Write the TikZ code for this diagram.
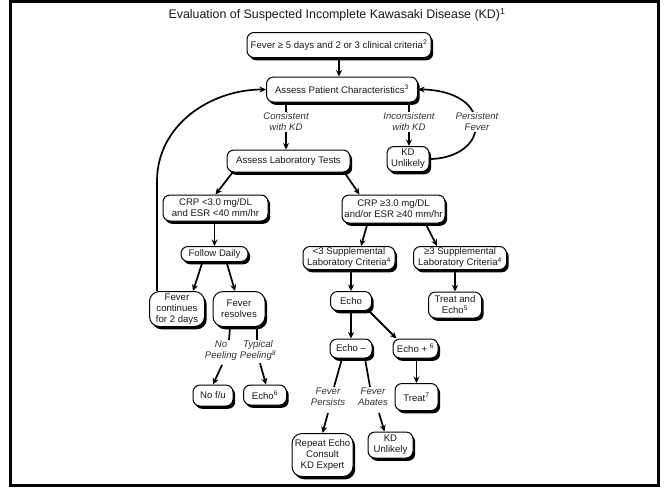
\documentclass[tikz,border=0pt]{standalone}
\usepackage{fontspec}
\setmainfont{Liberation Sans}
\setsansfont{Liberation Sans}
\usetikzlibrary{arrows.meta,shadows}
\newcommand\dfont{\fontsize{9.6}{11}\selectfont}
\begin{document}
\begin{tikzpicture}[x=1pt,y=-1pt,
  box/.style={draw=black, line width=1pt, rounded corners=7pt, fill=white, align=center,
    inner sep=1pt, font=\dfont, text=black!90,
    drop shadow={shadow xshift=2.2pt,shadow yshift=-2.8pt,fill=black,opacity=1}},
  bx/.style 2 args={box, minimum width=#1, minimum height=#2},
  lbl/.style={align=center, inner sep=1pt, font=\dfont\itshape, text=black!80},
  arr/.style={line width=1.7pt, -{Stealth[length=6.5pt,width=6pt]}},
  ln/.style={line width=1.7pt}]
\useasboundingbox (0,0) rectangle (666,488);
\fill[white] (0,0) rectangle (666,488);
\draw[line width=3pt] (10.5,1.5) rectangle (658.5,485.5);

\node[font=\fontsize{12.4}{14}\selectfont, text=black!90] (title) at (337,15)
  {Evaluation of Suspected Incomplete Kawasaki Disease (KD)\textsuperscript{1}};

% boxes
\node[bx={184pt}{25pt}] (fever) at (339,45) {Fever ≥ 5 days and 2 or 3 clinical criteria\textsuperscript{2}};
\node[bx={151pt}{25pt}] (apc) at (342,89.5) {Assess Patient Characteristics\textsuperscript{3}};
\node[bx={123pt}{22pt}] (lab) at (288.5,161) {Assess Laboratory Tests};
\node[bx={42pt}{25pt}] (kdu1) at (408,159) {KD\\Unlikely};
\node[bx={105pt}{26pt}] (crp1) at (215.5,208) {CRP <3.0 mg/DL\\and ESR <40 mm/hr};
\node[bx={103pt}{28pt}] (crp2) at (393.5,209) {CRP ≥3.0 mg/DL\\and/or ESR ≥40 mm/hr};
\node[bx={67pt}{15pt}] (fd) at (214.5,254) {Follow Daily};
\node[bx={92pt}{23pt}] (sup1) at (349,258) {<3 Supplemental\\Laboratory Criteria\textsuperscript{4}};
\node[bx={93pt}{23pt}] (sup2) at (460,258) {≥3 Supplemental\\Laboratory Criteria\textsuperscript{4}};
\node[bx={41pt}{19pt}] (echo) at (351,301) {Echo};
\node[bx={53pt}{26pt}] (te) at (455,305) {Treat and\\Echo\textsuperscript{5}};
\node[bx={55pt}{35pt}, rounded corners=10pt] (fc) at (177,309) {Fever\\continues\\for 2 days};
\node[bx={52pt}{35pt}, rounded corners=10pt] (fr) at (239,309) {Fever\\resolves};
\node[bx={42pt}{19pt}] (echom) at (351,348.5) {Echo –};
\node[bx={45pt}{19pt}] (echop) at (415.5,348.5) {Echo + \textsuperscript{6}};
\node[bx={40pt}{21pt}] (nofu) at (213,395.5) {No f/u};
\node[bx={43pt}{20pt}] (echo6) at (265,395) {Echo\textsuperscript{6}};
\node[bx={43pt}{27pt}] (treat) at (416.5,397) {Treat\textsuperscript{7}};
\node[bx={61pt}{43pt}, rounded corners=10pt] (rep) at (322.5,455) {Repeat Echo\\Consult\\KD Expert};
\node[bx={45pt}{26pt}] (kdu2) at (390.5,445) {KD\\Unlikely};

% labels
\node[lbl] (cons) at (286,122) {Consistent\\with KD};
\node[lbl] (incons) at (409,122) {Inconsistent\\with KD};
\node[lbl] (np) at (221,351) {No\\Peeling};
\node[lbl] (tp) at (258,351) {Typical\\Peeling\textsuperscript{8}};
\node[lbl] (fp) at (328,397) {Fever\\Persists};
\node[lbl] (fa) at (373,397) {Fever\\Abates};

% connectors
\draw[arr] (fever) -- (fever.south |- apc.north);
\draw[ln] (apc.south -| cons.north) -- (cons.north);
\draw[arr] (cons.south) -- (cons.south |- lab.north);
\draw[ln] (apc.south -| incons.north) -- (incons.north);
\draw[arr] (incons.south) -- (incons.south |- kdu1.north);
\draw[arr] (kdu1.east) to[out=0,in=-90] (476,125) to[out=90,in=0] (apc.east);
\node[lbl, fill=white] (pf) at (477,122) {Persistent\\Fever};
\draw[arr] ([xshift=8pt]fc.north west) -- ++(0,-110) to[out=90,in=180] (apc.west);

\draw[arr] ([xshift=6pt]lab.south west) -- (crp1.north);
\draw[arr] ([xshift=-6pt]lab.south east) -- ([xshift=18pt]crp2.north west);
\draw[arr] (crp1.south -| fd.north) -- (fd.north);
\draw[arr] ([xshift=-12pt]fd.south) -- ([xshift=16pt]fc.north);
\draw[arr] ([xshift=12pt]fd.south) -- ([xshift=-4pt]fr.north);
\draw[arr] ([xshift=-26pt]crp2.south) -- ([xshift=12pt]sup1.north);
\draw[arr] ([xshift=32pt]crp2.south) -- ([xshift=-23pt]sup2.north);
\draw[arr] (sup1.south -| echo.north) -- (echo.north);
\draw[arr] (sup2.south -| te.north) -- (te.north);
\draw[arr] (echo.south) -- (echom.north);
\draw[arr, line width=2pt] ([xshift=-3pt]echo.south east) -- ([xshift=4pt]echop.north west);
\draw[arr] (echop.south -| treat.north) -- (treat.north);

\draw[ln] ([xshift=-9pt]fr.south) -- ([xshift=8pt]np.north);
\draw[ln] ([xshift=18pt]fr.south) -- ([xshift=-1pt]tp.north);
\draw[arr] ([xshift=1pt,yshift=-3pt]np.south) -- (nofu.north);
\draw[arr] ([xshift=2pt,yshift=-1pt]tp.south) -- ([xshift=1pt]echo6.north);

\draw[ln] ([xshift=-9pt]echom.south) -- ([xshift=6pt]fp.north);
\draw[ln] ([xshift=14pt]echom.south) -- ([xshift=-3pt]fa.north);
\draw[arr] ([yshift=-6pt]fp.south) -- (rep.north);
\draw[arr] ([xshift=6pt,yshift=-6pt]fa.south) -- ([xshift=-6pt]kdu2.north);
\end{tikzpicture}
\end{document}
